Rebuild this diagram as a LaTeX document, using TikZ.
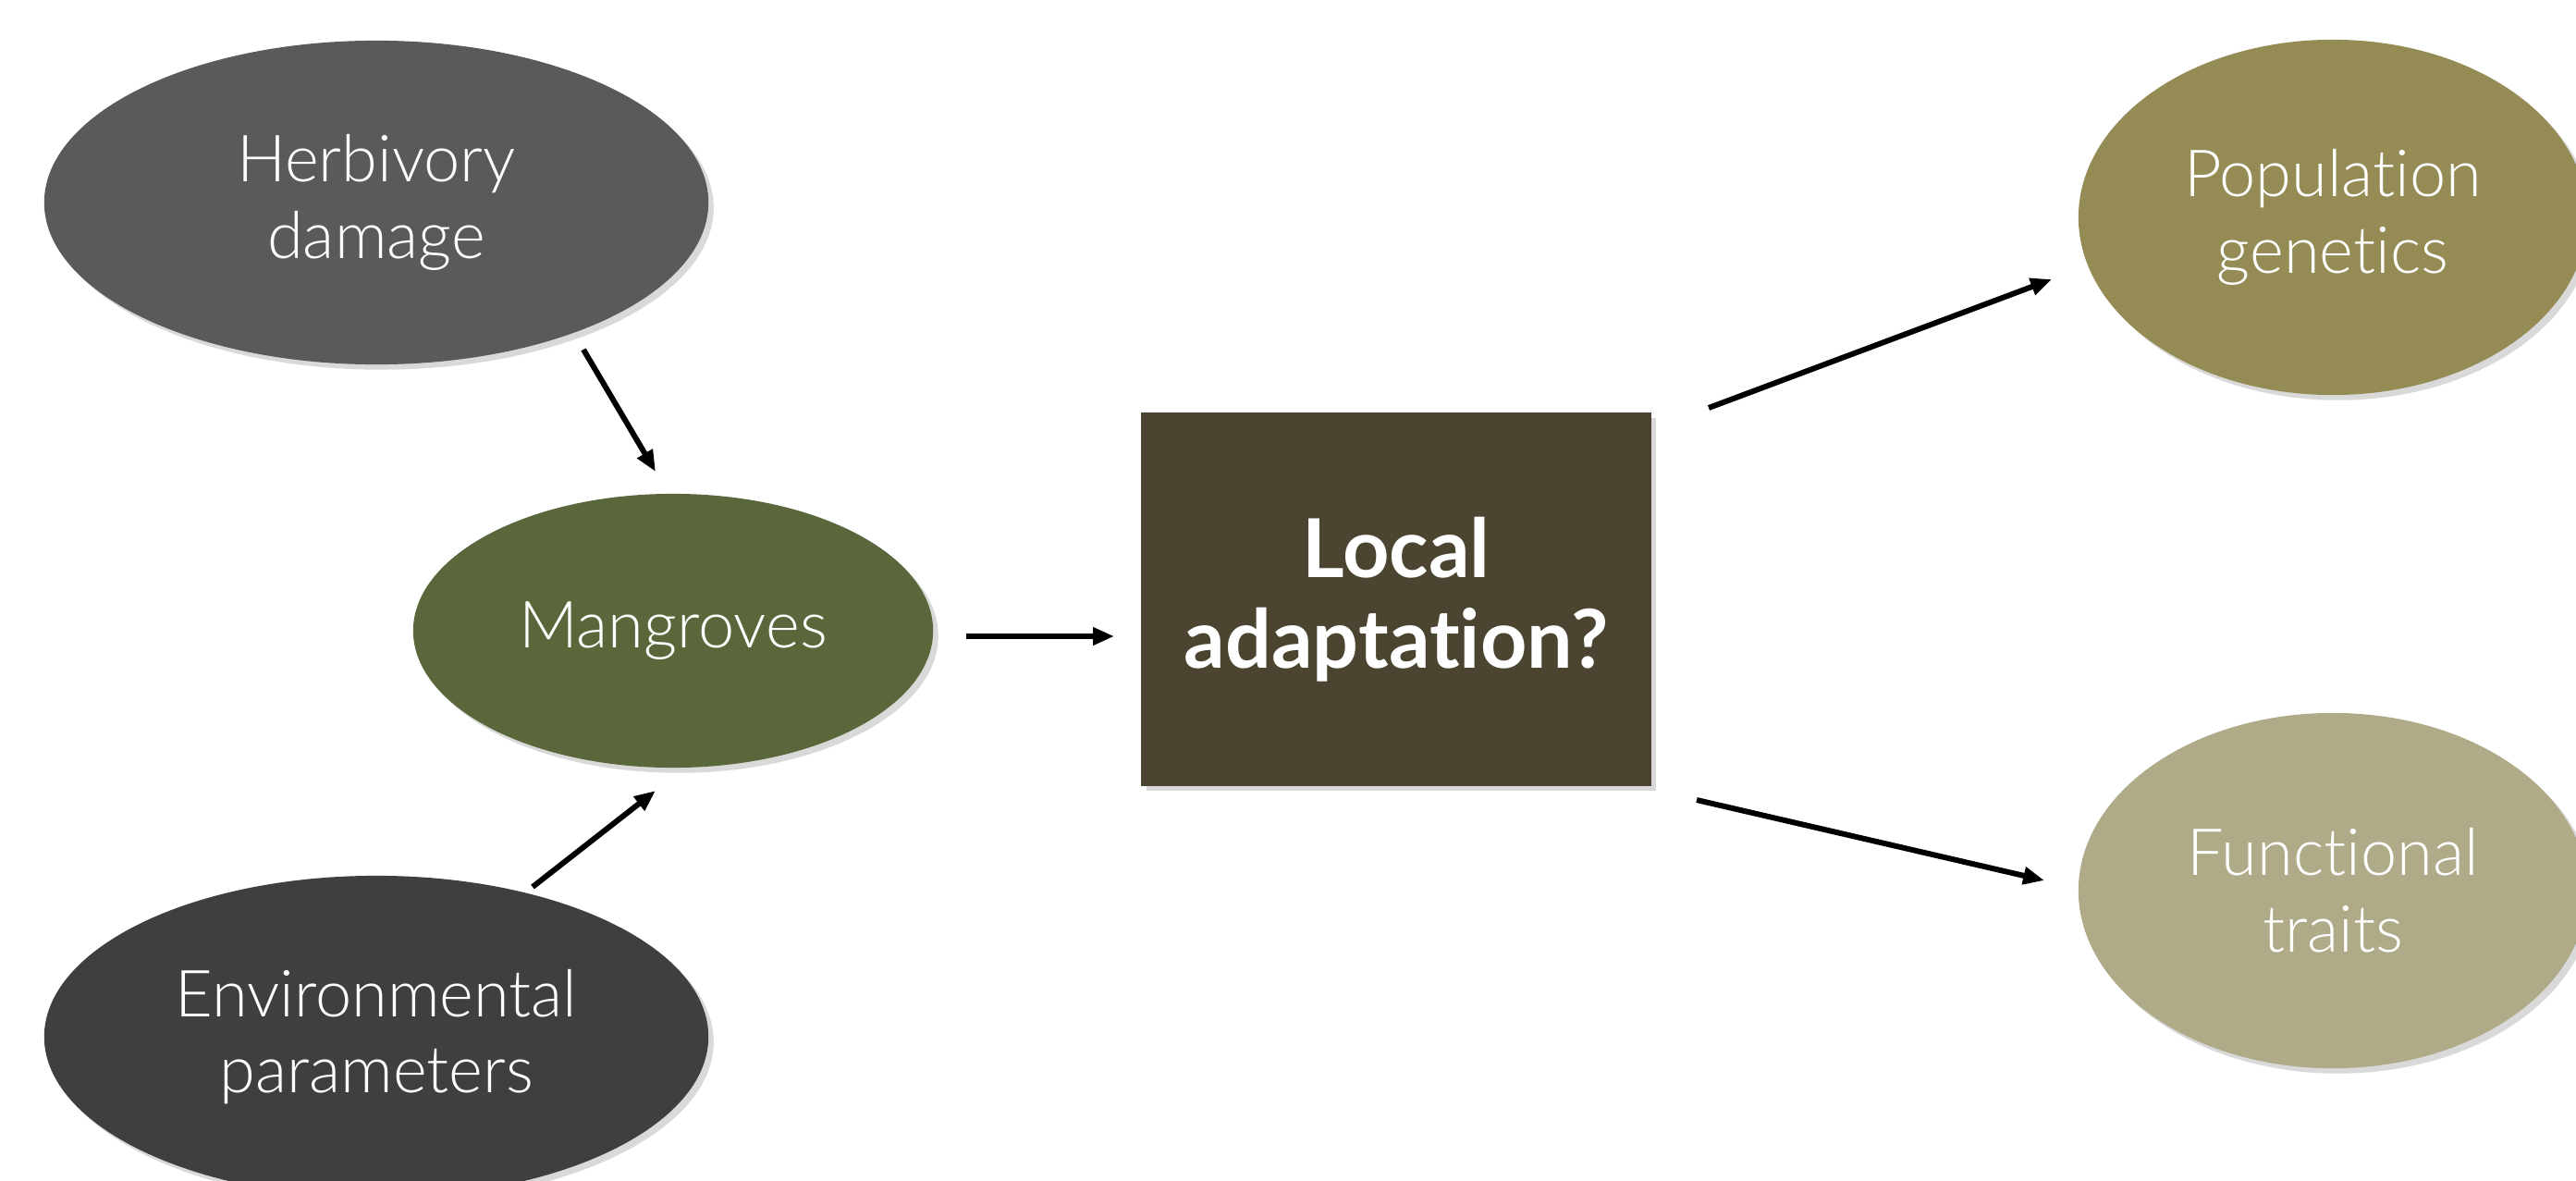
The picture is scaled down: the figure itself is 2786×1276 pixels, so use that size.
\documentclass[tikz,border=0pt]{standalone}
\usepackage{fontspec}
\IfFontExistsTF{Lato Light}{\newfontfamily\lightf{Lato Light}[Ligatures={NoCommon}]}{\newfontfamily\lightf{Lato}[Ligatures={NoCommon}]}
\newfontfamily\boldf{Lato}[Ligatures={NoCommon}]
\usetikzlibrary{shapes.geometric,arrows.meta,shadows}
\definecolor{herbc}{HTML}{5A5A5A}
\definecolor{envc}{HTML}{3F3F3F}
\definecolor{mangc}{HTML}{5A673B}
\definecolor{boxc}{HTML}{4A4430}
\definecolor{popc}{HTML}{958B55}
\definecolor{funcc}{HTML}{AFAA87}
\tikzset{
  blob/.style={ellipse, inner sep=0pt, text=white, align=center,
    font=\lightf\fontsize{20}{23.5}\selectfont,
    drop shadow={shadow xshift=1.6pt, shadow yshift=-1.6pt, opacity=0.3}},
  qbox/.style={rectangle, inner sep=0pt, text=white, align=center,
    fill=boxc, minimum width=5.51cm, minimum height=4.03cm,
    font=\boldf\bfseries\fontsize{25}{28}\selectfont,
    drop shadow={shadow xshift=1.6pt, shadow yshift=-1.6pt, opacity=0.3}},
  arr/.style={line width=1.7pt, -{Triangle[length=6.5pt,width=5.2pt]}}
}
\begin{document}
\begin{tikzpicture}[x=0.01cm,y=-0.01cm]
\useasboundingbox (0,0) rectangle (2786,1276);
\clip (0,0) rectangle (2786,1276);
\node[blob, fill=herbc, minimum width=7.18cm, minimum height=3.50cm] (herb) at (407,219) {Herbivory\\damage};
\node[blob, fill=envc, minimum width=7.18cm, minimum height=3.48cm] (env) at (407,1121) {Environmental\\parameters};
\node[blob, fill=mangc, minimum width=5.62cm, minimum height=2.96cm] (mang) at (728,682) {Mangroves};
\node[qbox] (loc) at (1510,648) {Local\\adaptation?};
\node[blob, fill=popc, minimum width=5.50cm, minimum height=3.84cm] (pop) at (2523,235) {Population\\genetics};
\node[blob, fill=funcc, minimum width=5.50cm, minimum height=3.84cm] (func) at (2523,963) {Functional\\traits};
\coordinate (h1) at (631,378);
\coordinate (h2) at (709,510);
\coordinate (e1) at (576,959);
\coordinate (e2) at (709,855);
\coordinate (m1) at (1045,688);
\coordinate (m2) at (1205,688);
\coordinate (p1) at (1848,441);
\coordinate (p2) at (2219,302);
\coordinate (f1) at (1835,865);
\coordinate (f2) at (2211,952);
\draw[arr] (h1) -- (h2);
\draw[arr] (e1) -- (e2);
\draw[arr] (m1) -- (m2);
\draw[arr] (p1) -- (p2);
\draw[arr] (f1) -- (f2);
\end{tikzpicture}
\end{document}
